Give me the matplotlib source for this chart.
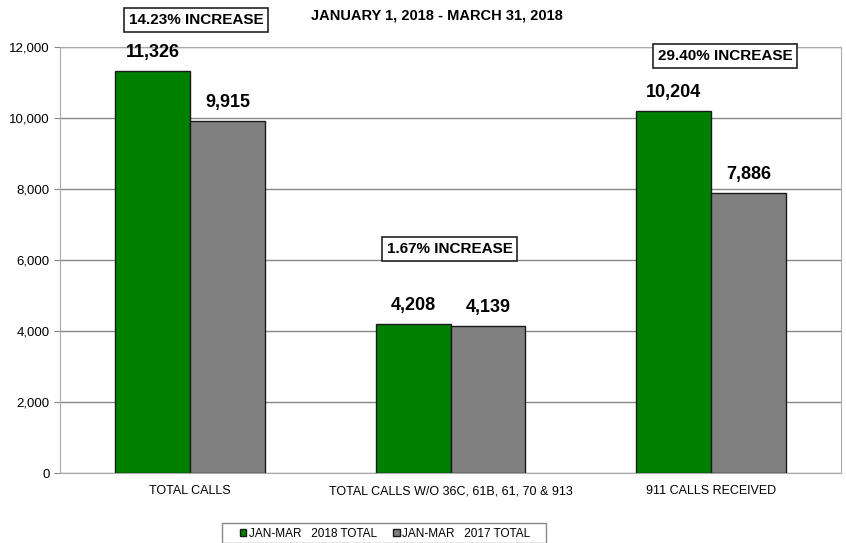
import matplotlib
matplotlib.use("Agg")
import matplotlib.pyplot as plt
import numpy as np
from matplotlib.patches import Rectangle
from matplotlib.ticker import FuncFormatter

# ── Data ──────────────────────────────────────────────────────────────
categories = ["TOTAL CALLS", "TOTAL CALLS W/O 36C, 61B, 61, 70 & 913", "911 CALLS RECEIVED"]
totals_2018 = [11326, 4208, 10204]
totals_2017 = [9915, 4139, 7886]
increase_labels = ["14.23% INCREASE", "1.67% INCREASE", "29.40% INCREASE"]
series_names = ["JAN-MAR   2018 TOTAL", "JAN-MAR   2017 TOTAL"]
title = "JANUARY 1, 2018 - MARCH 31, 2018"

GREEN = "#008000"
GRAY = "#808080"
plt.rcParams["font.family"] = ["Liberation Sans", "DejaVu Sans"]

fig = plt.figure(figsize=(8.46, 5.43), dpi=100)
ax = fig.add_axes([60 / 846, 1 - 473 / 543, (841 - 60) / 846, (473 - 47) / 543])

x = np.arange(len(categories))
w = 0.288
b1 = ax.bar(x - w / 2, totals_2018, w, color=GREEN, edgecolor="#1a1a1a", linewidth=1, label=series_names[0], zorder=3)
b2 = ax.bar(x + w / 2, totals_2017, w, color=GRAY, edgecolor="#1a1a1a", linewidth=1, label=series_names[1], zorder=3)

for bars in (b1, b2):
    for bar in bars:
        h = bar.get_height()
        ax.annotate(f"{h:,.0f}", xy=(bar.get_x() + bar.get_width() / 2, h),
                    xytext=(0, 7), textcoords="offset points", ha="center", va="bottom",
                    fontsize=13, fontweight="bold")

ax.set_xlim(-0.5, 2.5)
ax.set_ylim(0, 12000)
ax.set_yticks(np.arange(0, 12001, 2000))
ax.yaxis.set_major_formatter(FuncFormatter(lambda v, p: f"{v:,.0f}"))
ax.set_xticks(x)
ax.set_xticklabels(categories, fontsize=9)
ax.tick_params(axis="x", length=0, pad=9)
ax.tick_params(axis="y", labelsize=9.5, length=4, color="#888888")
ax.grid(axis="y", color="#888888", linewidth=1, zorder=0)
for s in ax.spines.values():
    s.set_color("#aaaaaa")

# increase boxes (positions in figure pixels)
box_pos = [((122 + 270) / 2, 20), ((374 + 525) / 2, 249), ((655 + 795) / 2, 56)]
for label, (px, py) in zip(increase_labels, box_pos):
    fig.text(px / 846, 1 - py / 543, label, ha="center", va="center", fontsize=11,
             fontweight="bold",
             bbox=dict(boxstyle="square,pad=0.3", facecolor="white", edgecolor="#222222", linewidth=1.2))

fig.text(437 / 846, 1 - 15 / 543, title, ha="center", va="center", fontsize=10.5,
         fontweight="bold")

# legend: frameless entries inside a wider box, like the original
fig.patches.append(Rectangle((222 / 846, 0), (546 - 222) / 846, 20 / 543,
                             transform=fig.transFigure, facecolor="white",
                             edgecolor="#888888", linewidth=1, zorder=0))
fig.legend(handles=[b1, b2], loc="center", bbox_to_anchor=(385 / 846, 1 - 534 / 543),
           ncol=2, frameon=False, handlelength=0.55, handleheight=0.55,
           handletextpad=0.2, columnspacing=1.4, borderpad=0.2,
           borderaxespad=0, prop={"size": 8.5})

fig.savefig("out.png", dpi=100)
